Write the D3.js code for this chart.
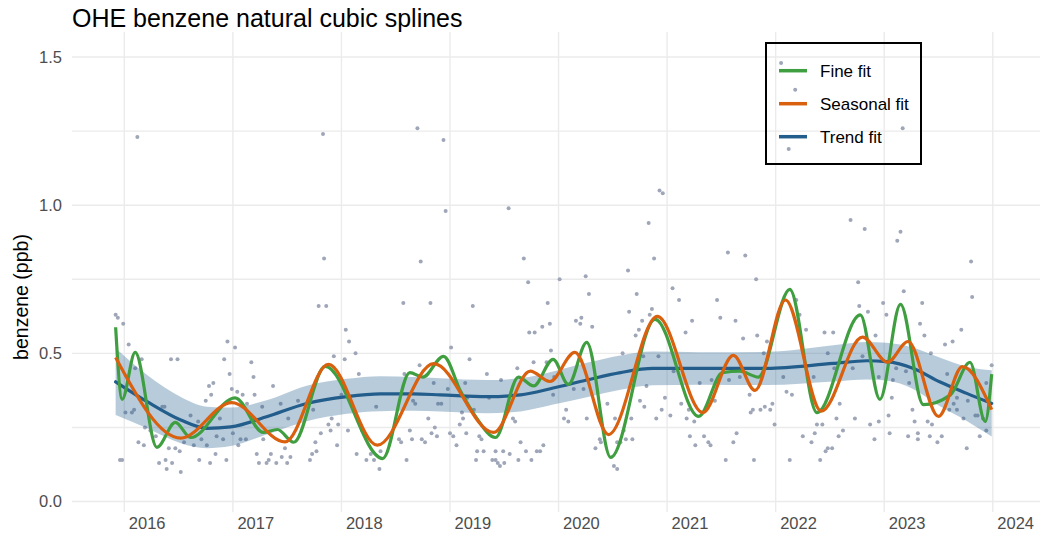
<!DOCTYPE html>
<html><head><meta charset="utf-8">
<script src="https://cdn.jsdelivr.net/npm/d3@7"></script>
<style>
html,body{margin:0;padding:0;background:#fff;}
text{font-family:"Liberation Sans",Arial,Helvetica,sans-serif;}
</style></head>
<body>
<svg id="chart" width="1053" height="536"></svg>
<script>
const titleText = "OHE benzene natural cubic splines";
const yTitle = "benzene (ppb)";
const yearTicks = [2016,2017,2018,2019,2020,2021,2022,2023,2024];
const yTicks = [0,0.5,1.0,1.5];
const yGrid = [0,0.25,0.5,0.75,1.0,1.25,1.5];
const seriesNames = ["Fine fit","Seasonal fit","Trend fit"];

// observations: [decimal year, benzene ppb]
const obs = [
[2016.12,1.23],[2015.92,0.63],[2015.94,0.62],[2015.99,0.60],[2016.04,0.53],[2016.16,0.48],[2016.10,0.45],[2016.09,0.31],[2016.07,0.30],[2016.01,0.30],[2015.96,0.14],[2015.98,0.14],[2016.19,0.25],[2016.13,0.20],[2016.18,0.19],[2016.24,0.24],[2016.29,0.22],[2016.35,0.32],[2016.37,0.32],[2016.32,0.13],[2016.38,0.14],[2016.44,0.13],[2016.39,0.11],[2016.41,0.18],[2016.47,0.18],[2016.51,0.17],[2016.52,0.10],[2016.43,0.48],[2016.49,0.48],[2016.55,0.20],[2016.61,0.29],[2016.64,0.19],[2016.68,0.27],[2016.71,0.21],[2016.69,0.14],[2016.76,0.19],[2016.75,0.34],[2016.78,0.39],[2016.82,0.40],[2016.80,0.36],[2016.79,0.13],[2016.84,0.16],[2016.85,0.22],[2016.91,0.21],[2016.88,0.28],[2016.94,0.14],[2016.92,0.48],[2016.95,0.54],[2017.02,0.52],[2016.97,0.43],[2016.99,0.38],[2017.04,0.37],[2017.00,0.23],[2017.05,0.19],[2017.07,0.21],[2017.12,0.21],[2017.09,0.36],[2017.13,0.33],[2017.17,0.47],[2017.19,0.42],[2017.20,0.36],[2017.22,0.16],[2017.24,0.13],[2017.27,0.32],[2017.28,0.21],[2017.31,0.13],[2017.33,0.14],[2017.35,0.16],[2017.37,0.39],[2017.40,0.13],[2017.44,0.33],[2017.45,0.15],[2017.48,0.18],[2017.51,0.28],[2017.50,0.13],
[2017.83,1.24],[2017.84,0.82],[2017.79,0.66],[2017.86,0.66],[2018.04,0.58],[2018.07,0.54],[2018.13,0.50],[2017.93,0.49],[2018.03,0.48],[2018.16,0.43],[2018.00,0.36],[2017.74,0.31],[2017.60,0.34],[2017.70,0.34],[2017.91,0.28],[2017.88,0.26],[2017.97,0.26],[2017.90,0.24],[2017.81,0.23],[2017.76,0.20],[2017.77,0.17],[2017.73,0.16],[2017.71,0.14],[2017.53,0.15],[2017.96,0.19],[2018.06,0.24],[2018.14,0.16],[2018.19,0.24],[2018.23,0.14],[2018.27,0.16],[2018.32,0.32],[2018.30,0.14],[2018.35,0.11],[2018.36,0.17],[2018.53,0.21],[2018.55,0.20],[2018.60,0.14],[2018.63,0.24],[2018.65,0.21],[2018.57,0.67],[2018.58,0.43],[2018.66,0.34],[2018.68,0.33],[2018.72,0.46],[2018.70,1.26],[2018.73,0.81],[2018.82,0.67],[2018.74,0.21],[2018.77,0.20],[2018.80,0.28],[2018.83,0.23],[2018.85,0.40],[2018.86,0.25],[2018.88,0.22],[2018.89,0.33],[2018.92,0.33],[2018.94,1.22],[2018.96,0.98],[2019.01,0.52],[2018.98,0.38],[2019.00,0.23],[2019.03,0.22],[2019.06,0.19],[2019.09,0.26],[2019.11,0.30],[2019.12,0.28],[2019.15,0.23],[2019.18,0.48],[2019.14,0.40],[2019.16,0.35],
[2019.21,0.66],[2019.22,0.31],[2019.54,0.99],[2019.68,0.82],[2019.72,0.74],[2019.34,0.43],[2019.47,0.41],[2019.62,0.45],[2019.36,0.35],[2019.27,0.22],[2019.29,0.21],[2019.25,0.17],[2019.31,0.17],[2019.24,0.14],[2019.39,0.14],[2019.42,0.14],[2019.44,0.13],[2019.46,0.12],[2019.50,0.13],[2019.42,0.17],[2019.49,0.17],[2019.55,0.16],[2019.58,0.28],[2019.60,0.27],[2019.63,0.14],[2019.65,0.20],[2019.70,0.17],[2019.75,0.14],[2019.80,0.17],[2019.83,0.17],[2019.86,0.19],[2019.73,0.57],[2019.78,0.57],[2019.85,0.59],[2019.90,0.67],[2019.92,0.60],[2019.93,0.51],[2019.77,0.47],[2019.89,0.47],[2019.96,0.42],[2019.95,0.36],[2020.01,0.75],[2020.07,0.31],[2020.05,0.28],[2020.09,0.27],[2020.16,0.61],[2020.21,0.62],[2020.20,0.60],[2020.25,0.76],[2020.28,0.70],[2020.31,0.59],[2020.14,0.38],[2020.23,0.38],[2020.26,0.28],[2020.34,0.18],[2020.38,0.21],[2020.39,0.20],[2020.45,0.33],[2020.52,0.28],[2020.54,0.20],[2020.60,0.24],[2020.57,0.20],[2020.51,0.12],[2020.54,0.11],[2020.62,0.21],[2020.68,0.21],[2020.67,0.28],[2020.59,0.50],[2020.64,0.78],[2020.65,0.64],[2020.72,0.70],[2020.71,0.56],[2020.74,0.58],[2020.77,0.61],[2020.83,0.94],[2020.78,0.49],[2020.75,0.34],[2020.81,0.39],[2020.79,0.32],
[2020.93,1.05],[2020.96,1.04],[2020.88,0.82],[2020.86,0.65],[2020.84,0.63],[2021.05,0.72],[2021.11,0.68],[2021.23,0.61],[2021.17,0.57],[2020.92,0.49],[2021.06,0.44],[2020.98,0.35],[2020.95,0.31],[2020.90,0.28],[2021.03,0.29],[2021.13,0.33],[2021.30,0.40],[2021.20,0.31],[2021.18,0.28],[2021.25,0.27],[2021.21,0.22],[2021.26,0.19],[2021.34,0.22],[2021.38,0.20],[2021.40,0.19],[2021.41,0.41],[2021.44,0.34],[2021.46,0.68],[2021.49,0.62],[2021.54,0.14],[2021.56,0.84],[2021.63,0.61],[2021.61,0.20],[2021.64,0.23],[2021.57,0.41],[2021.67,0.42],[2021.70,0.55],[2021.72,0.83],[2021.76,0.36],[2021.77,0.30],[2021.79,0.31],[2021.80,0.14],[2021.82,0.75],[2021.83,0.56],[2021.86,0.31],[2021.90,0.32],[2021.95,0.31],[2021.97,0.33],[2021.89,0.50],[2021.92,0.54],[2021.99,0.26],[2022.07,0.42],[2022.10,0.37],[2022.15,0.36],[2022.13,0.14],[2022.19,0.68],[2022.22,0.63],[2022.28,0.58],[2022.25,0.22],[2022.33,0.20],[2022.36,0.23],[2022.35,0.42],[2022.38,0.26],[2022.43,0.26],[2022.41,0.14],[2022.46,0.17],[2022.48,0.18],[2022.45,0.57],[2022.48,0.50],
[2022.05,1.48],[2022.18,1.39],[2022.12,1.19],
[2022.69,0.95],[2022.82,0.92],[2023.12,0.88],[2023.15,0.91],[2023.17,1.26],[2023.80,0.81],[2023.81,0.69],[2022.76,0.74],[2022.77,0.66],[2022.85,0.64],[2022.99,0.67],[2023.02,0.63],[2023.18,0.71],[2023.35,0.67],[2023.33,0.60],[2023.37,0.56],[2022.53,0.57],[2022.92,0.56],[2022.54,0.45],[2022.65,0.47],[2022.80,0.49],[2022.71,0.45],[2022.95,0.42],[2023.11,0.45],[2023.20,0.44],[2023.23,0.40],[2023.07,0.35],[2023.08,0.41],[2023.43,0.50],[2023.56,0.53],[2023.63,0.54],[2023.71,0.58],[2023.58,0.43],[2023.67,0.35],[2023.64,0.33],[2023.60,0.31],[2023.67,0.31],[2023.73,0.28],[2023.77,0.34],[2023.94,0.40],[2023.99,0.46],[2023.84,0.29],[2023.86,0.29],[2023.91,0.28],[2023.94,0.24],[2023.88,0.22],[2023.76,0.18],[2022.59,0.33],[2022.56,0.28],[2022.62,0.24],[2022.58,0.22],[2022.52,0.18],[2022.73,0.28],[2022.87,0.26],[2022.95,0.27],[2022.91,0.21],[2023.04,0.29],[2023.05,0.23],[2023.22,0.22],[2023.26,0.31],[2023.31,0.23],[2023.28,0.27],[2023.31,0.21],[2023.40,0.27],[2023.44,0.26],[2023.42,0.22],[2023.49,0.20],[2023.53,0.22]
];

// Fine fit (read at turning points)
const fineYear = [2015.92,2015.98,2016.10,2016.30,2016.47,2016.61,2017.02,2017.28,2017.41,2017.56,2017.85,2018.38,2018.63,2018.75,2018.94,2019.10,2019.23,2019.42,2019.63,2019.77,2019.95,2020.09,2020.26,2020.48,2020.89,2021.29,2021.51,2021.67,2021.84,2022.13,2022.38,2022.78,2022.96,2023.15,2023.36,2023.61,2023.79,2023.93,2023.99];
const fineVal  = [0.588,0.345,0.503,0.183,0.267,0.216,0.350,0.233,0.243,0.200,0.456,0.145,0.435,0.420,0.490,0.370,0.290,0.216,0.420,0.390,0.480,0.395,0.537,0.149,0.615,0.287,0.435,0.440,0.420,0.716,0.300,0.630,0.345,0.665,0.327,0.360,0.470,0.270,0.430];

// Seasonal fit
const seasYear = [2015.92,2016.52,2016.99,2017.48,2017.88,2018.33,2018.85,2019.40,2019.74,2019.92,2020.15,2020.46,2020.91,2021.33,2021.61,2021.81,2022.09,2022.42,2022.80,2023.03,2023.22,2023.50,2023.72,2023.99];
const seasVal  = [0.486,0.214,0.334,0.201,0.463,0.190,0.465,0.233,0.440,0.405,0.503,0.226,0.625,0.300,0.493,0.375,0.680,0.305,0.555,0.470,0.540,0.287,0.455,0.310];

// Trend fit with confidence band
const trendYear = [2015.92,2016.21,2016.52,2016.76,2016.98,2017.31,2017.68,2018.05,2018.36,2018.66,2018.91,2019.34,2019.65,2019.95,2020.26,2020.57,2020.87,2021.30,2021.92,2022.53,2022.84,2023.02,2023.27,2023.51,2023.76,2023.99];
const trendVal  = [0.404,0.337,0.275,0.247,0.252,0.286,0.331,0.354,0.363,0.363,0.360,0.354,0.360,0.383,0.410,0.435,0.449,0.449,0.449,0.466,0.475,0.472,0.449,0.404,0.365,0.331];
const trendLow  = [0.292,0.247,0.197,0.180,0.187,0.226,0.271,0.296,0.305,0.306,0.304,0.298,0.304,0.327,0.352,0.377,0.392,0.394,0.393,0.405,0.412,0.408,0.379,0.322,0.272,0.219];
const trendHigh = [0.517,0.427,0.353,0.320,0.317,0.342,0.391,0.414,0.423,0.420,0.416,0.410,0.416,0.439,0.468,0.493,0.506,0.504,0.505,0.527,0.538,0.536,0.519,0.486,0.455,0.443];

const colors = {"Fine fit":"#3f9e3f","Seasonal fit":"#d9600f","Trend fit":"#225d8c"};

const svg = d3.select("#chart");
const x = d3.scaleLinear().domain([2015.518, 2024.435]).range([72, 1040]);
const y = d3.scaleLinear().domain([-0.0354, 1.5845]).range([512, 32]);

// grid
svg.append("g").selectAll("line").data(yGrid).join("line")
  .attr("x1", x.range()[0]).attr("x2", x.range()[1])
  .attr("y1", d => y(d)).attr("y2", d => y(d))
  .attr("stroke", "#ebebeb").attr("stroke-width", 1.4);
svg.append("g").selectAll("line").data(yearTicks).join("line")
  .attr("x1", d => x(d)).attr("x2", d => x(d))
  .attr("y1", y.range()[0]).attr("y2", y.range()[1])
  .attr("stroke", "#ebebeb").attr("stroke-width", 1.4);

// axes
const yAxis = svg.append("g").attr("transform", `translate(${x.range()[0]},0)`)
  .call(d3.axisLeft(y).tickValues(yTicks).tickFormat(d3.format(".1f")).tickSize(0).tickPadding(10));
yAxis.select(".domain").remove();
yAxis.selectAll("text").attr("font-size", 16.5).attr("fill", "#4d4d4d");

const xAxis = svg.append("g").attr("transform", `translate(0,${y.range()[0]})`)
  .call(d3.axisBottom(x).tickValues(yearTicks).tickFormat(d3.format("d")).tickSize(0).tickPadding(5));
xAxis.select(".domain").remove();
xAxis.selectAll("text").attr("font-size", 16.5).attr("fill", "#4d4d4d")
  .attr("text-anchor", "start").attr("dx", 4);

// points
svg.append("g").selectAll("circle").data(obs).join("circle")
  .attr("cx", d => x(d[0])).attr("cy", d => y(d[1])).attr("r", 2)
  .attr("fill", "#9ea6b8");

// ribbon
const band = trendYear.map((t, i) => ({t, lo: trendLow[i], hi: trendHigh[i]}));
svg.append("path").datum(band)
  .attr("d", d3.area().x(d => x(d.t)).y0(d => y(d.lo)).y1(d => y(d.hi)).curve(d3.curveMonotoneX))
  .attr("fill", colors["Trend fit"]).attr("fill-opacity", 0.32);

const line = d3.line().x(d => x(d[0])).y(d => y(d[1])).curve(d3.curveMonotoneX);
const trend = trendYear.map((t, i) => [t, trendVal[i]]);
const fine = fineYear.map((t, i) => [t, fineVal[i]]);
const seas = seasYear.map((t, i) => [t, seasVal[i]]);

svg.append("path").datum(trend).attr("d", line).attr("fill", "none")
  .attr("stroke", colors["Trend fit"]).attr("stroke-width", 3.2).attr("stroke-linecap","round");
svg.append("path").datum(fine).attr("d", line).attr("fill", "none")
  .attr("stroke", colors["Fine fit"]).attr("stroke-width", 3.2).attr("stroke-linejoin","round");
svg.append("path").datum(seas).attr("d", line).attr("fill", "none")
  .attr("stroke", colors["Seasonal fit"]).attr("stroke-width", 3.2).attr("stroke-linejoin","round");

// title
svg.append("text").attr("x", 72).attr("y", 27).attr("font-size", 25).attr("fill", "#000").text(titleText);
svg.append("text").attr("transform", "translate(28,297) rotate(-90)").attr("text-anchor", "middle")
  .attr("font-size", 19.5).attr("fill", "#000").text(yTitle);

// legend
const lg = svg.append("g");
lg.append("rect").attr("x", 766).attr("y", 43).attr("width", 155).attr("height", 121)
  .attr("fill", "none").attr("stroke", "#000").attr("stroke-width", 2);
const ly = d3.scalePoint().domain(seriesNames).range([70.7, 136.7]);
seriesNames.forEach(n => {
  lg.append("line").attr("x1", 779).attr("x2", 807).attr("y1", ly(n)).attr("y2", ly(n))
    .attr("stroke", colors[n]).attr("stroke-width", 3.5);
  lg.append("text").attr("x", 820).attr("y", ly(n) + 6).attr("font-size", 17).attr("fill", "#000").text(n);
});
</script>
</body></html>
